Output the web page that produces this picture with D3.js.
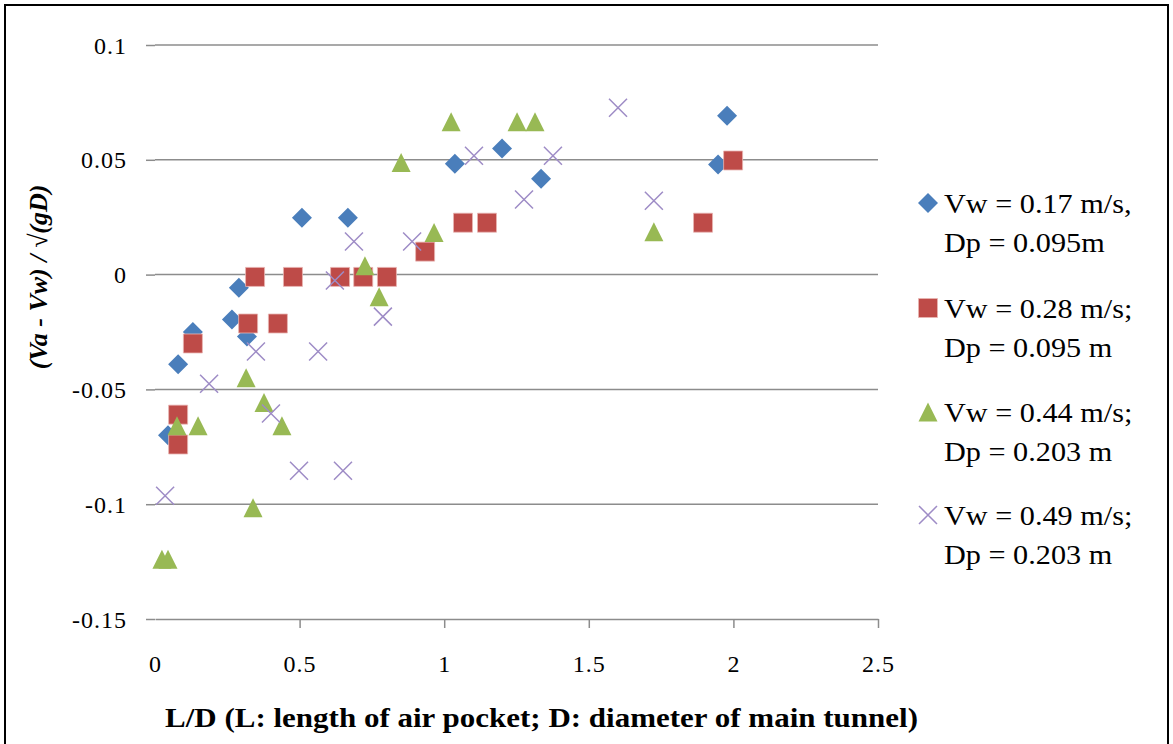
<!DOCTYPE html>
<html>
<head>
<meta charset="utf-8">
<script src="https://cdnjs.cloudflare.com/ajax/libs/d3/7.8.5/d3.min.js"></script>
<style>
  html, body { margin: 0; padding: 0; background: #fff; }
  svg { display: block; }
  text { font-family: "Liberation Serif", "Times New Roman", serif; fill: #000; }
</style>
</head>
<body>
<svg id="chart" width="1173" height="744"></svg>
<script>
// Dimensionless velocity difference vs. relative air-pocket length, four test series
const ldBlue  = [0.045, 0.080, 0.131, 0.266, 0.290, 0.318, 0.508, 0.667, 1.037, 1.200, 1.335, 1.947, 1.978];
const vBlue   = [-0.070, -0.039, -0.025, -0.0196, -0.0057, -0.027, 0.0248, 0.0248, 0.0483, 0.0549, 0.0418, 0.0479, 0.0692];

const ldRed   = [0.080, 0.080, 0.131, 0.322, 0.346, 0.425, 0.477, 0.640, 0.720, 0.802, 0.934, 1.065, 1.148, 1.895, 1.999];
const vRed    = [-0.061, -0.074, -0.030, -0.0213, -0.001, -0.0213, -0.001, -0.001, -0.001, -0.001, 0.010, 0.0226, 0.0226, 0.0226, 0.0497];

const ldGreen = [0.024, 0.045, 0.076, 0.149, 0.315, 0.339, 0.377, 0.439, 0.726, 0.775, 0.851, 0.965, 1.024, 1.252, 1.314, 1.725];
const vGreen  = [-0.124, -0.124, -0.0658, -0.0658, -0.0449, -0.1015, -0.0557, -0.0658, 0.0039, -0.0096, 0.0488, 0.0183, 0.0666, 0.0666, 0.0666, 0.0187];

const ldPurple = [0.035, 0.187, 0.349, 0.401, 0.498, 0.564, 0.622, 0.650, 0.688, 0.788, 0.889, 1.103, 1.276, 1.376, 1.601, 1.725];
const vPurple  = [-0.0963, -0.0475, -0.0335, -0.0605, -0.0854, -0.0335, -0.0026, -0.0854, 0.0144, -0.0183, 0.0144, 0.0518, 0.0327, 0.0518, 0.0727, 0.0322];

const seriesNames = [
  ["Vw = 0.17 m/s,", "Dp = 0.095m"],
  ["Vw = 0.28 m/s;", "Dp = 0.095 m"],
  ["Vw = 0.44 m/s;", "Dp = 0.203 m"],
  ["Vw = 0.49 m/s;", "Dp = 0.203 m"]
];

const xTicks = [0, 0.5, 1, 1.5, 2, 2.5];
const xTickLabels = ["0", "0.5", "1", "1.5", "2", "2.5"];
const yTicks = [-0.15, -0.1, -0.05, 0, 0.05, 0.1];
const yTickLabels = ["-0.15", "-0.1", "-0.05", "0", "0.05", "0.1"];

const xTitle = "L/D (L: length of air pocket; D: diameter of main tunnel)";
const yTitle = "(Va - Vw) / \u221A(gD)";

// ---- marker shapes (size = edge length in px) ----
const diamond = { draw(ctx, s) { const r = s / 2; ctx.moveTo(0, -r); ctx.lineTo(r, 0); ctx.lineTo(0, r); ctx.lineTo(-r, 0); ctx.closePath(); } };
const square  = { draw(ctx, s) { const r = s / 2; ctx.rect(-r, -r, s, s); } };
const triangle = { draw(ctx, s) { const r = s / 2; ctx.moveTo(0, -r); ctx.lineTo(r, r); ctx.lineTo(-r, r); ctx.closePath(); } };
const cross   = { draw(ctx, s) { const r = s / 2; ctx.moveTo(-r, -r); ctx.lineTo(r, r); ctx.moveTo(r, -r); ctx.lineTo(-r, r); } };

const series = [
  { xs: ldBlue,   ys: vBlue,   shape: diamond,  size: 20, fill: "#4a7ebb", stroke: "none",    sw: 0 },
  { xs: ldRed,    ys: vRed,    shape: square,   size: 19, fill: "#be4b48", stroke: "#e9b5b3", sw: 0.8 },
  { xs: ldGreen,  ys: vGreen,  shape: triangle, size: 19, fill: "#98b954", stroke: "none",    sw: 0 },
  { xs: ldPurple, ys: vPurple, shape: cross,    size: 18, fill: "none",    stroke: "#9e8cc6", sw: 1.5 }
];

const svg = d3.select("#chart");

// outer frame
svg.append("rect")
  .attr("x", 5).attr("y", 5).attr("width", 1163).attr("height", 760)
  .attr("fill", "none").attr("stroke", "#000").attr("stroke-width", 2);

const x = d3.scaleLinear().domain([0, 2.5]).range([155, 878]);
const y = d3.scaleLinear().domain([-0.15, 0.1]).range([619, 45]);

// horizontal gridlines
svg.append("g")
  .selectAll("line")
  .data(yTicks.slice(1))
  .join("line")
  .attr("x1", x(0)).attr("x2", x(2.5))
  .attr("y1", d => y(d)).attr("y2", d => y(d))
  .attr("stroke", "#8c8c8c").attr("stroke-width", 1.5);

// y axis: outside ticks only, no axis line
const yAxis = svg.append("g")
  .attr("transform", `translate(${x(0)},0)`)
  .call(d3.axisLeft(y).tickValues(yTicks).tickSize(9).tickPadding(19)
    .tickFormat((d, i) => yTickLabels[i]));
yAxis.attr("font-family", null).attr("font-size", null);
yAxis.select(".domain").remove();
yAxis.selectAll(".tick line").attr("stroke", "#8c8c8c").attr("stroke-width", 1.5);
yAxis.selectAll(".tick text")
  .style("font-family", "'Liberation Serif', serif")
  .style("font-size", "24px")
  .style("letter-spacing", "1px")
  .attr("dy", "0.34em");

// x axis
const xAxis = svg.append("g")
  .attr("transform", `translate(0,${y(-0.15)})`)
  .call(d3.axisBottom(x).tickValues(xTicks).tickSize(9).tickSizeOuter(0).tickPadding(27)
    .tickFormat((d, i) => xTickLabels[i]));
xAxis.attr("font-family", null).attr("font-size", null);
xAxis.select(".domain").attr("stroke", "#8c8c8c").attr("stroke-width", 1.5);
xAxis.selectAll(".tick line").attr("stroke", "#8c8c8c").attr("stroke-width", 1.5)
  .attr("display", d => d === 0 ? "none" : null);
xAxis.selectAll(".tick text")
  .style("font-family", "'Liberation Serif', serif")
  .style("font-size", "24px")
  .style("letter-spacing", "1px");

// data markers
series.forEach(s => {
  const sym = d3.symbol().type(s.shape).size(s.size);
  svg.append("g")
    .selectAll("path")
    .data(s.xs.map((v, i) => [v, s.ys[i]]))
    .join("path")
    .attr("transform", d => `translate(${x(d[0])},${y(d[1])})`)
    .attr("d", sym)
    .attr("fill", s.fill)
    .attr("stroke", s.stroke)
    .attr("stroke-width", s.sw);
});

// legend
const legendTop = [203, 308, 412, 515];
const legend = svg.append("g");
series.forEach((s, i) => {
  const g = legend.append("g").attr("transform", `translate(928,${legendTop[i]})`);
  g.append("path").attr("d", d3.symbol().type(s.shape).size(s.size))
    .attr("fill", s.fill).attr("stroke", s.stroke).attr("stroke-width", s.sw);
  seriesNames[i].forEach((line, j) => {
    g.append("text")
      .attr("transform", `translate(16,${10 + j * 39}) scale(1.12,1)`)
      .style("font-size", "27px")
      .text(line);
  });
});

// axis titles
svg.append("text")
  .attr("x", 165).attr("y", 727)
  .style("font-size", "27px").style("font-weight", "bold")
  .attr("textLength", 753).attr("lengthAdjust", "spacingAndGlyphs")
  .text(xTitle);

svg.append("text")
  .attr("transform", "translate(47,277) rotate(-90)")
  .attr("text-anchor", "middle")
  .style("font-size", "26px").style("font-weight", "bold").style("font-style", "italic")
  .text(yTitle);
</script>
</body>
</html>
